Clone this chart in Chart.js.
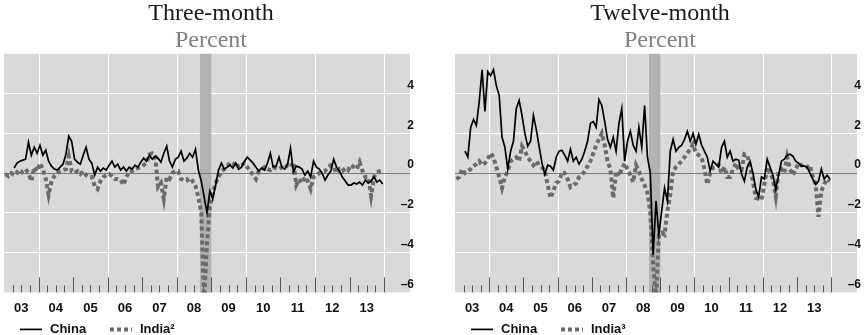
<!DOCTYPE html>
<html>
<head>
<meta charset="utf-8">
<script src="https://cdn.jsdelivr.net/npm/chart.js@4.4.1/dist/chart.umd.min.js"></script>
<style>
  html, body { margin: 0; padding: 0; background: #fff; }
  body { width: 865px; height: 335px; position: relative; overflow: hidden; }
  .panel { position: absolute; top: 0; height: 335px; }
  #left { left: 0; width: 430px; }
  #right { left: 430px; width: 435px; }
</style>
</head>
<body>
<div class="panel" id="left"><canvas id="threeMonth"></canvas></div>
<div class="panel" id="right"><canvas id="twelveMonth"></canvas></div>
<script>
// monthly values, Jan 2003 .. Dec 2013 (percent)
const years = [2003, 2004, 2005, 2006, 2007, 2008, 2009, 2010, 2011, 2012, 2013];
const yearLabels = ['03', '04', '05', '06', '07', '08', '09', '10', '11', '12', '13'];
const yTicks = [-6, -4, -2, 0, 2, 4];
const bandStart = 2008.67;
const bandEnd = 2009.0;

const chinaThree = [
  null, null, null, 0.25, 0.5, 0.6, 0.65, 0.7, 1.55, 0.9, 1.3, 1.0,
  1.4, 0.9, 1.15, 0.6, 0.35, 0.2, 0.15, 0.3, 0.45, 0.95, 1.85, 1.6,
  0.7, 0.55, 0.45, 0.9, 1.3, 0.7, 0.5, -0.1, 0.3, 0.1, 0.25, 0.15,
  0.4, 0.6, 0.3, 0.45, 0.15, 0.3, 0.1, 0.3, 0.2, 0.4, 0.3, 0.55,
  0.75, 0.6, 0.9, 0.7, 0.85, 0.75, 0.55, 1.0, 1.35, 0.6, 0.3, 0.7,
  0.8, 1.1, 0.6, 0.75, 1.0, 0.8, 1.2, 0.15, -0.4, -1.2, -2.0, -0.9,
  -1.3, -0.6, 0.15, 0.5, 0.2, 0.3, 0.4, 0.25, 0.5, 0.2, 0.3, 0.6,
  0.8, 0.65, 0.5, 0.3, 0.1, 0.25, 0.15, 0.5, 1.0, 0.3, 0.35, 0.8,
  0.3, 0.2, 0.45, 1.25, 0.05, 0.35, 0.3, 0.2, -0.1, 0.1, -0.2, 0.6,
  0.3, 0.2, 0.0, -0.35, -0.1, 0.1, 0.7, 0.3, 0.1, -0.2, -0.4, -0.6,
  -0.6, -0.5, -0.55, -0.45, -0.6, -0.35, -0.5, -0.4, -0.2, -0.45, -0.35, -0.55
];
const indiaThree = [
  -0.05, -0.15, 0.0, -0.1, 0.05, -0.1, 0.1, 0.2, 0.0, -0.4, 0.3, 0.1,
  0.5, 0.2, -0.3, -1.1, -0.4, -0.15, 0.0, 0.1, 0.15, 0.2, 0.85, 0.1,
  0.0, 0.1, -0.05, 0.1, -0.1, -0.2, -0.2, -0.65, -0.8, -0.4, -0.2, -0.1,
  -0.05, -0.15, -0.3, -0.3, -0.35, -0.6, -0.2, 0.1, 0.1, 0.2, 0.25, 0.3,
  0.4, 0.5, 0.95, 1.0, 0.85, -0.7, -0.5, -1.3, -0.2, -0.3, 0.0, 0.1,
  0.1, -0.3, -0.35, -0.3, -0.5, -0.4, -0.65, -1.2, -2.0, -6.5, -3.5, -1.7,
  -1.0, -0.5, -0.2, 0.1, 0.2, 0.35, 0.5, 0.4, 0.55, 0.3, 0.4, 0.5,
  0.3, 0.1, -0.1, -0.3, 0.1, 0.2, 0.3, 0.2, 0.15, 0.3, 0.25, 0.2,
  0.3, 0.25, 0.4, 0.3, 0.55, -0.6, -0.3, -0.5, -0.2, -0.4, -0.8, -0.2,
  -0.1, 0.0, 0.05, 0.1, 0.3, 0.4, 0.3, 0.0, 0.2, 0.1, 0.25, 0.15,
  0.4, 0.3, 0.2, 0.55, 0.1, -0.2, -0.2, -1.15, -0.2, 0.05, 0.1, 0.15
];
const chinaTwelve = [
  null, null, null, 1.1, 0.8, 2.3, 2.7, 2.4, 3.6, 5.2, 3.1, 5.1,
  4.9, 5.2, 4.4, 3.9, 1.8, 1.3, 0.2, 1.1, 1.6, 3.25, 3.65, 2.9,
  2.0, 1.35, 1.6, 2.9, 2.2, 1.35, 0.5, -0.05, 0.4, 0.35, 0.15, 0.8,
  1.1, 1.15, 0.9, 0.6, 1.2, 0.6, 0.8, 0.45, 0.7, 1.1, 1.6, 2.5,
  2.6, 2.3, 3.7, 3.4, 2.6, 1.7, 1.3, 1.8, 1.1, 2.5, 3.25, 0.6,
  1.6, 2.1, 1.4, 1.1, 2.3, 1.3, 3.4, 0.8, 0.0, -4.1, -1.4, -3.1,
  -1.9, -0.75, -1.4, 1.1, 1.7, 1.1, 1.3, 1.4, 1.7, 2.1, 1.6, 2.0,
  1.45, 1.95, 1.4, 1.1, 0.8, 0.1, 0.6, 0.45, 0.3, 1.3, 1.6, 0.8,
  1.1, 0.6, 0.7, 0.65, -0.05, -0.4, 0.3, 0.6, 0.0, -0.8, -1.2, -0.2,
  -0.3, 0.7, 0.3, -0.1, -0.83, -0.1, 0.6, 0.7, 0.9, 0.95, 0.85, 0.6,
  0.5, 0.35, 0.35, 0.3, 0.0, -0.3, -0.57, -0.4, 0.2, -0.3, -0.1, -0.3
];
const indiaTwelve = [
  -0.3, -0.2, 0.2, 0.0, 0.1, 0.2, 0.35, 0.45, 0.6, 0.4, 0.5, 0.7,
  1.0, 0.8, 0.3, -0.2, -0.75, -0.2, 0.1, 0.6, 0.7, 0.8, 0.6, 1.35,
  1.1, 0.8, 0.6, 0.4, 0.6, 0.4, 0.3, 0.1, -0.6, -1.25, -0.9, -0.5,
  -0.4, 0.05, 0.0, -0.3, -0.7, -0.6, -0.5, -0.2, -0.1, 0.1, 0.35, 0.6,
  1.0, 1.4, 1.7, 2.0, 1.4, 0.6, 0.2, -1.25, 0.1, -0.15, 0.2, 0.5,
  0.2, -0.1, -0.45, 0.4, 0.1, -0.3, -0.6, -1.0, -2.0, -4.6, -6.3, -3.1,
  -3.0, -3.1, -1.9, -1.1, 0.1, 0.3, 0.45, 0.6, 0.8, 1.0, 1.2, 1.45,
  1.0, 0.9, 0.78, 0.2, -0.57, 0.0, 0.27, 0.3, 0.44, 0.0, 0.3, -0.2,
  -0.2, 0.2, 0.5, 0.15, 0.15, 0.95, 0.9, 0.3, -0.4, -1.25, -1.3, -1.35,
  -0.57, 0.3, 0.0, -0.3, -1.17, 0.1, 0.2, 0.0, 0.8, 0.2, -0.1, 0.2,
  0.5, 0.4, 0.3, 0.3, 0.4, -0.2, -0.55, -2.2, -0.9, -0.55, -0.3, -0.4
];

const sansBold = { family: '"Liberation Sans", Arial, sans-serif', weight: 'bold' };

// month i -> mid-month position on the year axis
function toPoints(values) {
  return values.map((v, i) => ({ x: years[0] + (i + 0.5) / 12, y: v }));
}

// background, recession band, zero line, quarter ticks and the legend
const panelDecor = {
  id: 'panelDecor',
  beforeDraw(chart) {
    const { ctx, chartArea: a, scales: { x } } = chart;
    ctx.save();
    ctx.fillStyle = '#d9d9db';
    ctx.fillRect(a.left, a.top, a.right - a.left, a.bottom - a.top);
    ctx.strokeStyle = '#ffffff';
    ctx.lineWidth = 1;
    for (let yr = 2004; yr <= 2014; yr += 2) {
      const px = Math.round(x.getPixelForValue(yr)) + 0.5;
      ctx.beginPath();
      ctx.moveTo(px, a.top);
      ctx.lineTo(px, a.bottom);
      ctx.stroke();
    }
    ctx.restore();
  },
  beforeDatasetsDraw(chart) {
    const { ctx, chartArea: a, scales: { x, y } } = chart;
    ctx.save();
    const x0 = x.getPixelForValue(bandStart);
    const x1 = x.getPixelForValue(bandEnd);
    ctx.fillStyle = '#b2b2b5';
    ctx.fillRect(x0, a.top, x1 - x0, a.bottom - a.top);

    const zy = Math.round(y.getPixelForValue(0)) + 0.5;
    ctx.strokeStyle = '#7a7a7a';
    ctx.lineWidth = 1;
    ctx.beginPath();
    ctx.moveTo(a.left, zy);
    ctx.lineTo(a.right, zy);
    ctx.stroke();

    ctx.strokeStyle = '#555';
    for (let q = years[0] * 4 + 1; q <= 2014 * 4; q++) {
      const px = Math.round(x.getPixelForValue(q / 4)) + 0.5;
      const len = q % 4 === 0 ? 15 : 7;
      ctx.beginPath();
      ctx.moveTo(px, a.bottom);
      ctx.lineTo(px, a.bottom - len);
      ctx.stroke();
    }
    ctx.restore();
  },
  afterDraw(chart) {
    const { ctx, chartArea: a } = chart;
    const ly = a.bottom + 37;
    let lx = a.left + 16;
    ctx.save();
    ctx.font = 'bold 13px "Liberation Sans", Arial, sans-serif';
    ctx.textBaseline = 'middle';
    ctx.fillStyle = '#111';
    chart.data.datasets.forEach(ds => {
      ctx.beginPath();
      ctx.setLineDash(ds.borderDash || []);
      ctx.lineWidth = ds.borderWidth;
      ctx.strokeStyle = ds.borderColor;
      ctx.moveTo(lx, ly);
      ctx.lineTo(lx + 22, ly);
      ctx.stroke();
      ctx.setLineDash([]);
      ctx.fillText(ds.label, lx + 30, ly);
      lx += 90;
    });
    ctx.restore();
  }
};

function makePanel(canvasId, title, china, india, indiaLabel, padding) {
  const ctx = document.getElementById(canvasId).getContext('2d');
  return new Chart(ctx, {
    type: 'line',
    data: {
      datasets: [{
        label: 'China',
        data: toPoints(china),
        borderColor: '#000',
        borderWidth: 1.7,
        pointRadius: 0,
        tension: 0
      }, {
        label: indiaLabel,
        data: toPoints(india),
        borderColor: '#6a6a6a',
        borderWidth: 4,
        borderDash: [4, 3],
        pointRadius: 0,
        tension: 0
      }]
    },
    options: {
      responsive: true,
      maintainAspectRatio: false,
      animation: false,
      events: [],
      layout: { padding: padding },
      plugins: {
        legend: { display: false },
        tooltip: { enabled: false },
        title: {
          display: true,
          text: title,
          color: '#1a1a1a',
          font: { family: '"Liberation Serif", serif', size: 24, weight: 'normal', lineHeight: 1.1 },
          padding: { top: 1, bottom: 0 }
        },
        subtitle: {
          display: true,
          text: 'Percent',
          color: '#808080',
          font: { family: '"Liberation Serif", serif', size: 24, weight: 'normal', lineHeight: 1.1 },
          padding: { top: 0, bottom: 0 }
        }
      },
      scales: {
        x: {
          type: 'linear',
          min: 2003,
          max: 2014.75,
          afterBuildTicks: scale => { scale.ticks = years.map(yr => ({ value: yr + 0.5 })); },
          grid: { display: false, drawTicks: false },
          border: { display: false },
          ticks: {
            padding: 8,
            autoSkip: false,
            maxRotation: 0,
            color: '#111',
            font: { ...sansBold, size: 13 },
            callback: (value, index) => yearLabels[index]
          }
        },
        y: {
          position: 'right',
          min: -6,
          max: 6,
          afterBuildTicks: scale => { scale.ticks = yTicks.map(v => ({ value: v })); },
          grid: {
            drawTicks: false,
            lineWidth: 1,
            color: c => (c.tick && c.tick.value !== 0 && c.tick.value !== -6) ? '#ffffff' : 'rgba(0,0,0,0)'
          },
          border: { display: false },
          ticks: {
            mirror: true,
            padding: 4,
            labelOffset: -8,
            color: '#111',
            font: { ...sansBold, size: 12 },
            callback: v => v < 0 ? '\u2013' + Math.abs(v) : String(v)
          }
        }
      }
    },
    plugins: [panelDecor]
  });
}

makePanel('threeMonth', 'Three-month', chinaThree, indiaThree, 'India\u00b2', { left: 4, right: 12, top: 0, bottom: 11 });
makePanel('twelveMonth', 'Twelve-month', chinaTwelve, indiaTwelve, 'India\u00b3', { left: 25, right: 0, top: 0, bottom: 11 });
</script>
</body>
</html>
